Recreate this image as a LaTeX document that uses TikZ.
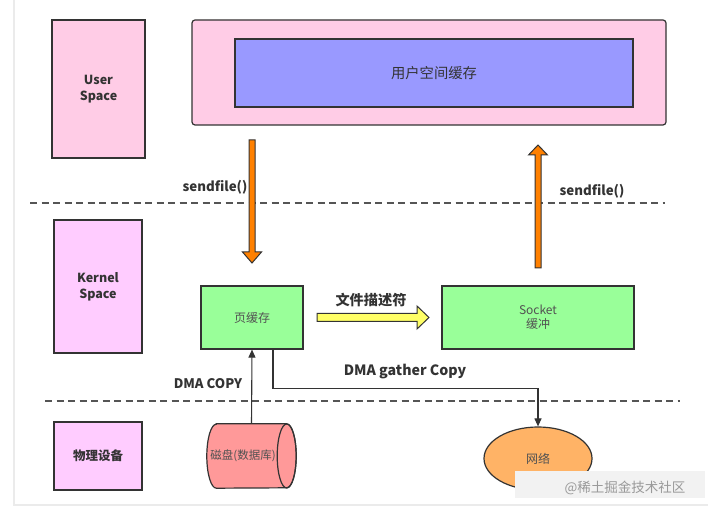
\documentclass[tikz,border=0pt]{standalone}
\usepackage{fontspec}
\setmainfont{Noto Sans CJK SC}
\usetikzlibrary{arrows.meta,calc,shapes.geometric}
\definecolor{bordc}{HTML}{333333}
\definecolor{txtc}{HTML}{333333}
\definecolor{userpink}{HTML}{FFCCE6}
\definecolor{kernpink}{HTML}{FFCCFF}
\definecolor{bluec}{HTML}{9999FF}
\definecolor{greenc}{HTML}{99FF99}
\definecolor{orangec}{HTML}{FF8000}
\definecolor{yellowc}{HTML}{FFFF66}
\definecolor{diskc}{HTML}{FF9999}
\definecolor{netc}{HTML}{FFB366}
\definecolor{dashc}{HTML}{555555}
\begin{document}
\begin{tikzpicture}[x=1pt,y=1pt,
  rect/.style={draw=bordc, line width=1.2pt, inner sep=0pt, align=center},
  lbl/.style={font=\bfseries\fontsize{12.5}{16}\selectfont, text=txtc, align=center},
  boxtext/.style={font=\fontsize{12}{14}\selectfont, text=txtc!85, align=center},
  sepline/.style={draw=dashc, line width=1.4pt, dash pattern=on 7pt off 4.5pt},
  fatarrow/.style={draw=bordc, line width=1pt, line join=miter},
  conn/.style={draw=bordc, line width=1.1pt, -{Triangle[length=8pt,width=7pt]}}
]
\useasboundingbox (0,0) rectangle (708,513);
\fill[white] (0,0) rectangle (708,513);
\draw[black!8, line width=1.2pt] (14,513) -- (14,8) -- (708,8);

% left column
\node[rect, fill=userpink, minimum width=93pt, minimum height=138pt, lbl] (us) at (98.5,424) {User\\Space};
\node[rect, fill=kernpink, minimum width=88pt, minimum height=133pt, lbl] (ks) at (98,226.5) {Kernel\\Space};
\node[rect, fill=kernpink, minimum width=88pt, minimum height=68pt, lbl] (hw) at (98,57) {物理设备};

% user buffer
\node[rect, rounded corners=3pt, fill=userpink, minimum width=474pt, minimum height=105pt] (ubuf) at (429,440.5) {};
\node[rect, fill=bluec, minimum width=398pt, minimum height=68pt, font=\fontsize{14.3}{16}\selectfont, text=txtc] (ucache) at (434,440) {用户空间缓存};

% dashed separators
\coordinate (d1a) at (30,310);
\coordinate (d1b) at (665,310);
\coordinate (d2a) at (45,112);
\coordinate (d2b) at (680,112);
\draw[sepline] (d1a) -- (d1b);
\draw[sepline] (d2a) -- (d2b);

% kernel buffers
\node[rect, fill=greenc, minimum width=102pt, minimum height=63pt, boxtext] (pc) at (252,195.5) {页缓存};
\node[rect, fill=greenc, minimum width=192pt, minimum height=63pt, boxtext] (sock) at (538,195.5) {Socket\\缓冲};

% disk cylinder
\node[minimum width=89pt, minimum height=64pt, inner sep=0pt] (disk) at (251.5,57) {};
\draw[draw=bordc, line width=1.2pt, fill=diskc]
  ($(disk.north west)+(9.5,0)$) -- ($(disk.north east)+(-9.5,0)$)
  arc[start angle=90, end angle=-90, x radius=9.5, y radius=32]
  -- ($(disk.south west)+(9.5,0)$)
  arc[start angle=270, end angle=90, x radius=9.5, y radius=32] -- cycle;
\draw[draw=bordc, line width=1.2pt] ($(disk.east)+(-9.5,0)$) ellipse[x radius=9.5, y radius=32];
\node[boxtext, font=\fontsize{11.5}{14}\selectfont] (disklbl) at (243,57) {磁盘(数据库)};

% network
\node[ellipse, draw=bordc, line width=1.2pt, fill=netc, minimum width=108pt, minimum height=63pt, inner sep=0pt, boxtext] (net) at (538,54.5) {网络};

% orange sendfile arrows
\coordinate (la) at (252,373);
\coordinate (lb) at (252,250);
\draw[fatarrow, fill=orangec] ($(la)+(-3,0)$) -- ($(lb)+(-3,11)$) -- ($(lb)+(-9.5,11)$) -- (lb) -- ($(lb)+(9.5,11)$) -- ($(lb)+(3,11)$) -- ($(la)+(3,0)$) -- cycle;
\coordinate (ra) at (538,245);
\coordinate (rb) at (538,368);
\draw[fatarrow, fill=orangec] ($(ra)+(-3,0)$) -- ($(rb)+(-3,-10)$) -- ($(rb)+(-9.5,-10)$) -- (rb) -- ($(rb)+(9.5,-10)$) -- ($(rb)+(3,-10)$) -- ($(ra)+(3,0)$) -- cycle;
\node[lbl, font=\bfseries\fontsize{13.3}{16}\selectfont] (sf1) at (215,326) {sendfile()};
\node[lbl, font=\bfseries\fontsize{13.3}{16}\selectfont] (sf2) at (592,322) {sendfile()};

% yellow file descriptor arrow
\coordinate (ya) at (317,195.5);
\coordinate (yb) at (429,195.5);
\draw[fatarrow, fill=yellowc] ($(ya)+(0,4)$) -- ($(yb)+(-12,4)$) -- ($(yb)+(-12,11.5)$) -- (yb) -- ($(yb)+(-12,-11.5)$) -- ($(yb)+(-12,-4)$) -- ($(ya)+(0,-4)$) -- cycle;
\node[lbl, font=\bfseries\fontsize{14.2}{16}\selectfont] (fd) at (371,213) {文件描述符};

% DMA connectors
\draw[conn] (disk.north) -- (pc.south);
\node[lbl, font=\bfseries\fontsize{13.2}{16}\selectfont] (dma) at (208,129) {DMA COPY};
\draw[conn] ($(pc.south)+(21,0)$) -- ++(0,-39) -| (net.north);
\node[lbl, font=\bfseries\fontsize{14.2}{16}\selectfont] (dmag) at (405,141) {DMA gather Copy};

% watermark
\fill[black!5] (515,15) rectangle (705,42);
\node[text=black!40, font=\fontsize{13.5}{15}\selectfont] (wm) at (625,25) {@稀土掘金技术社区};
\end{tikzpicture}
\end{document}
